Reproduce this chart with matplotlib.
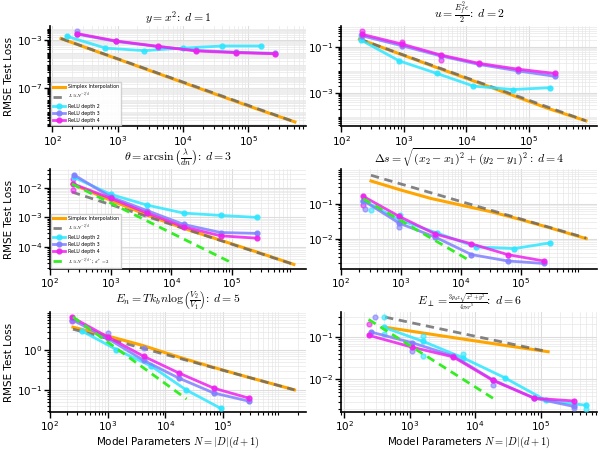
import matplotlib
matplotlib.use("Agg")
import matplotlib.pyplot as plt
from matplotlib.ticker import LogLocator, NullFormatter

plt.rcParams['mathtext.fontset'] = 'cm'
plt.rcParams['font.family'] = ['DejaVu Sans']

# ---- data: (N, RMSE loss) ----
# d = 1 : y = x^2
simplex_n1 = [136, 540, 2150, 8600, 34000, 137000, 520000]
simplex_l1 = [1.4e-3, 9.0e-5, 6.0e-6, 3.9e-7, 2.6e-8, 1.7e-9, 1.4e-10]
ref_n1 = [136, 520000]
ref_l1 = [1.4e-3, 1.4e-10]
relu2_n1 = [166, 653, 2570, 10000, 40000, 160000]
relu2_l1 = [2.2e-3, 2.2e-4, 1.35e-4, 2.2e-4, 3.3e-4, 3.3e-4]
relu3_n1 = [237, 955, 4120, 16000, 65000, 260000]
relu3_l1 = [3.3e-3, 8.0e-4, 3.0e-4, 1.4e-4, 1.0e-4, 8.0e-5]
relu4_n1 = [237, 955, 4120, 16000, 65000, 260000]
relu4_l1 = [3.7e-3, 8.7e-4, 3.1e-4, 1.26e-4, 9.1e-5, 7.4e-5]

# d = 2 : u = E^2 eps / 2
simplex_n2 = [195, 780, 3100, 12500, 50000, 200000, 820000]
simplex_l2 = [0.216, 0.054, 0.0135, 3.4e-3, 8.5e-4, 2.1e-4, 6.0e-5]
ref_n2 = [195, 820000]
ref_l2 = [0.216, 6.0e-5]
relu2_n2 = [207, 840, 3390, 13000, 55000, 220000]
relu2_l2 = [0.195, 0.0245, 6.9e-3, 1.95e-3, 1.38e-3, 1.66e-3]
relu3_n2 = [214, 946, 3890, 16000, 66000, 260000]
relu3_l2 = [0.30, 0.11, 0.040, 0.017, 0.0090, 0.0052]
relu4_n2 = [214, 946, 3890, 16000, 66000, 260000]
relu4_l2 = [0.35, 0.13, 0.044, 0.019, 0.0107, 0.0069]

# d = 3 : theta = arcsin(lambda / dn)
simplex_n3 = [230, 1000, 4000, 16000, 65000, 260000, 1050000]
simplex_l3 = [1.35e-2, 3.8e-3, 1.2e-3, 4.3e-4, 1.7e-4, 6.8e-5, 2.6e-5]
ref_n3 = [230, 1050000]
ref_l3 = [7.2e-3, 2.6e-5]
dstar_n3 = [230, 105000]
dstar_l3 = [1.35e-2, 2.8e-5]
relu2_n3 = [250, 1000, 4000, 16000, 65000, 260000]
relu2_l3 = [0.0224, 6.0e-3, 2.6e-3, 1.4e-3, 1.17e-3, 1.0e-3]
relu3_n3 = [250, 1000, 4000, 16000, 65000, 260000]
relu3_l3 = [0.027, 4.9e-3, 1.7e-3, 5.8e-4, 3.1e-4, 2.9e-4]
relu4_n3 = [240, 1000, 4000, 16000, 65000, 260000]
relu4_l3 = [0.0135, 4.4e-3, 1.4e-3, 4.8e-4, 2.4e-4, 2.0e-4]

# d = 4 : distance
simplex_n4 = [316, 1000, 3160, 10000, 31600, 100000, 316000, 1230000]
simplex_l4 = [0.447, 0.245, 0.141, 0.091, 0.059, 0.035, 0.020, 0.010]
ref_n4 = [316, 1230000]
ref_l4 = [0.65, 0.0104]
dstar_n4 = [235, 15000]
dstar_l4 = [0.138, 2.2e-3]
relu2_n4 = [235, 950, 4000, 18000, 78000, 310000]
relu2_l4 = [0.123, 0.034, 0.0145, 5.8e-3, 5.2e-3, 7.6e-3]
relu3_n4 = [235, 940, 3760, 15000, 60000, 240000]
relu3_l4 = [0.123, 0.0275, 0.011, 3.5e-3, 2.3e-3, 1.95e-3]
relu4_n4 = [235, 940, 3760, 15000, 60000, 240000]
relu4_l4 = [0.162, 0.043, 0.0135, 7.1e-3, 3.5e-3, 2.3e-3]

# d = 5 : E_n = T k_b n log(V2/V1)
simplex_n5 = [250, 1000, 4000, 16000, 63000, 250000, 1000000, 1740000]
simplex_l5 = [3.86, 2.32, 1.34, 0.70, 0.385, 0.217, 0.125, 0.1]
ref_n5 = [250, 1740000]
ref_l5 = [3.44, 0.1]
dstar_n5 = [250, 23400]
dstar_l5 = [7.0, 0.059]
relu2_n5 = [355, 1420, 5700, 23000, 92000]
relu2_l5 = [3.1, 1.05, 0.40, 0.10, 0.034]
relu3_n5 = [240, 1000, 4200, 17000, 70000, 280000]
relu3_l5 = [6.0, 2.0, 0.56, 0.20, 0.083, 0.052]
relu4_n5 = [240, 1000, 4200, 17000, 70000, 280000]
relu4_l5 = [6.9, 2.2, 0.71, 0.27, 0.11, 0.062]

# d = 6 : dipole field
simplex_n6 = [420, 1000, 3160, 10000, 31600, 130000]
simplex_l6 = [0.17, 0.139, 0.106, 0.081, 0.062, 0.045]
ref_n6 = [420, 130000]
ref_l6 = [0.295, 0.045]
dstar_n6 = [235, 21000]
dstar_l6 = [0.26, 3.2e-3]
relu2_n6 = [400, 1600, 6600, 28000, 120000, 490000]
relu2_l6 = [0.17, 0.079, 0.032, 0.011, 3.2e-3, 2.45e-3]
relu3_n6 = [260, 1070, 4600, 18500, 80000, 320000]
relu3_l6 = [0.13, 0.074, 0.036, 9.8e-3, 3.6e-3, 2.3e-3]
relu4_n6 = [235, 1070, 4600, 18500, 80000, 320000]
relu4_l6 = [0.11, 0.058, 0.034, 9.5e-3, 3.6e-3, 3.1e-3]

# individual seeds that stray from the curves: panel, depth, N, loss
seed_panel = [0, 1, 1, 1, 1, 2, 2, 3, 3, 3, 3, 3, 4, 4, 4,
              5, 5, 5, 5, 5, 5, 5, 5, 5, 5, 5]
seed_depth = [3, 4, 2, 4, 4, 4, 4, 4, 3, 2, 3, 2, 4, 3, 3,
              3, 4, 2, 2, 3, 2, 2, 2, 3, 2, 3]
seed_n = [237, 214, 207, 946, 3890, 240, 240, 235, 250, 316, 940, 950, 240, 1000, 4200,
          290, 235, 400, 400, 1070, 1600, 1600, 6600, 18500, 490000, 320000]
seed_l = [6.2e-3, 0.5, 0.32, 0.166, 0.026, 0.0205, 8.5e-3, 0.094, 0.072, 0.065, 0.022, 0.047,
          5.6, 2.8, 1.17,
          0.3, 0.2, 0.3, 0.12, 0.046, 0.105, 0.035, 0.04, 0.0075, 2.0e-3, 2.1e-3]

titles = [
    r"$y = x^2\!:\; d = 1$",
    r"$u = \frac{E_f^2\epsilon}{2}\!:\; d = 2$",
    r"$\theta = \arcsin\left(\frac{\lambda}{dn}\right)\!:\; d = 3$",
    r"$\Delta s = \sqrt{(x_2 - x_1)^2 + (y_2 - y_1)^2}\!:\; d = 4$",
    r"$E_n = T k_b n \log\left(\frac{V_2}{V_1}\right)\!:\; d = 5$",
    r"$E_\perp = \genfrac{}{}{0.5}{2}{3 p_d z \sqrt{x^2 + y^2}}{4\pi\epsilon r^5}\!:\; d = 6$",
]
title_pads = [3, 3, 3, 3, 3, 1.5]
yticks = [[1e-3, 1e-7], [1e-1, 1e-3], [1e-2, 1e-3, 1e-4],
          [1e-1, 1e-2], [1e0, 1e-1], [1e-1, 1e-2]]
xlims = [(10**1.965, 10**5.885), (10**1.995, 10**6.09), (10**2.0, 10**6.22),
         (10**2.0, 10**6.27), (10**2.0, 10**6.44), (10**1.95, 10**5.86)]
ylims = [(10**-10.2, 10**-1.81), (10**-4.45, 10**-0.1), (10**-4.74, 10**-1.37),
         (10**-2.87, 10**-0.01), (10**-1.56, 10**0.97), (10**-2.77, 10**-0.41)]

c_simplex = '#ffa500'
c_ref = '#666666'
c_dstar = '#33ee22'
depth_colors = {2: '#2ee6ff', 3: '#8080ff', 4: '#ee22ee'}

panels = [
    (simplex_n1, simplex_l1, ref_n1, ref_l1, None, None, relu2_n1, relu2_l1, relu3_n1, relu3_l1, relu4_n1, relu4_l1),
    (simplex_n2, simplex_l2, ref_n2, ref_l2, None, None, relu2_n2, relu2_l2, relu3_n2, relu3_l2, relu4_n2, relu4_l2),
    (simplex_n3, simplex_l3, ref_n3, ref_l3, dstar_n3, dstar_l3, relu2_n3, relu2_l3, relu3_n3, relu3_l3, relu4_n3, relu4_l3),
    (simplex_n4, simplex_l4, ref_n4, ref_l4, dstar_n4, dstar_l4, relu2_n4, relu2_l4, relu3_n4, relu3_l4, relu4_n4, relu4_l4),
    (simplex_n5, simplex_l5, ref_n5, ref_l5, dstar_n5, dstar_l5, relu2_n5, relu2_l5, relu3_n5, relu3_l5, relu4_n5, relu4_l5),
    (simplex_n6, simplex_l6, ref_n6, ref_l6, dstar_n6, dstar_l6, relu2_n6, relu2_l6, relu3_n6, relu3_l6, relu4_n6, relu4_l6),
]

fig, axes = plt.subplots(3, 2, figsize=(6, 4.5), dpi=100)
fig.subplots_adjust(left=0.0833, right=0.995, top=0.942, bottom=0.0844,
                    wspace=0.137, hspace=0.43)

for i, ax in enumerate(axes.flat):
    sn, sl, rn, rl, dn, dl, n2, l2, n3, l3, n4, l4 = panels[i]
    ax.set_xscale('log')
    ax.set_yscale('log')
    ax.plot(sn, sl, color=c_simplex, lw=2.2, label='Simplex Interpolation', zorder=3)
    ax.plot(rn, rl, color=c_ref, lw=2, ls=(0, (3, 2)), alpha=0.8,
            label=r'$L \propto N^{-2/d}$', zorder=4)
    for dep, nn, ll in [(2, n2, l2), (3, n3, l3), (4, n4, l4)]:
        ax.plot(nn, ll, color=depth_colors[dep], lw=2, marker='o', ms=3.5, alpha=0.85,
                label='ReLU depth %d' % dep, zorder=5 + dep / 10)
    if dn is not None:
        ax.plot(dn, dl, color=c_dstar, lw=2, ls=(0, (3, 2)),
                label=r'$L \propto N^{-2/d^*}$; $d^* = 2$', zorder=6)
    for p, dep, nn, ll in zip(seed_panel, seed_depth, seed_n, seed_l):
        if p == i:
            ax.plot(nn, ll, 'o', color=depth_colors[dep], ms=3.5, alpha=0.6, zorder=5)

    ax.set_xlim(*xlims[i])
    ax.set_ylim(*ylims[i])
    ax.set_xticks([1e2, 1e3, 1e4, 1e5])
    ax.set_yticks(yticks[i])
    ax.xaxis.set_minor_locator(LogLocator(base=10, subs=range(2, 10), numticks=20))
    ax.yaxis.set_minor_locator(LogLocator(base=10, subs=range(2, 10), numticks=20))
    ax.xaxis.set_minor_formatter(NullFormatter())
    ax.yaxis.set_minor_formatter(NullFormatter())
    ax.grid(True, which='major', color='#dddddd', lw=0.8)
    ax.grid(True, which='minor', color='#e8e8e8', lw=0.5)
    ax.set_axisbelow(True)
    for s in ['top', 'right']:
        ax.spines[s].set_visible(False)
    for s in ['left', 'bottom']:
        ax.spines[s].set_linewidth(1.2)
    ax.tick_params(which='major', length=4, width=1, labelsize=7.5, pad=1.5)
    ax.tick_params(which='minor', length=2, width=0.8)
    ax.set_title(titles[i], fontsize=8.5, pad=title_pads[i])
    if i % 2 == 0:
        ax.set_ylabel('RMSE Test Loss', fontsize=7.5, labelpad=2)
    if i >= 4:
        ax.set_xlabel(r'Model Parameters $N = |D|(d+1)$', fontsize=7.5, labelpad=1)
    if i in (0, 2):
        ax.legend(loc='lower left', fontsize=3.4, frameon=True, framealpha=0.9,
                  handlelength=2.5, handletextpad=0.6, borderpad=0.4,
                  labelspacing=0.45, borderaxespad=0.3,
                  edgecolor='#cccccc', fancybox=False)

fig.savefig('out.png', dpi=100)
